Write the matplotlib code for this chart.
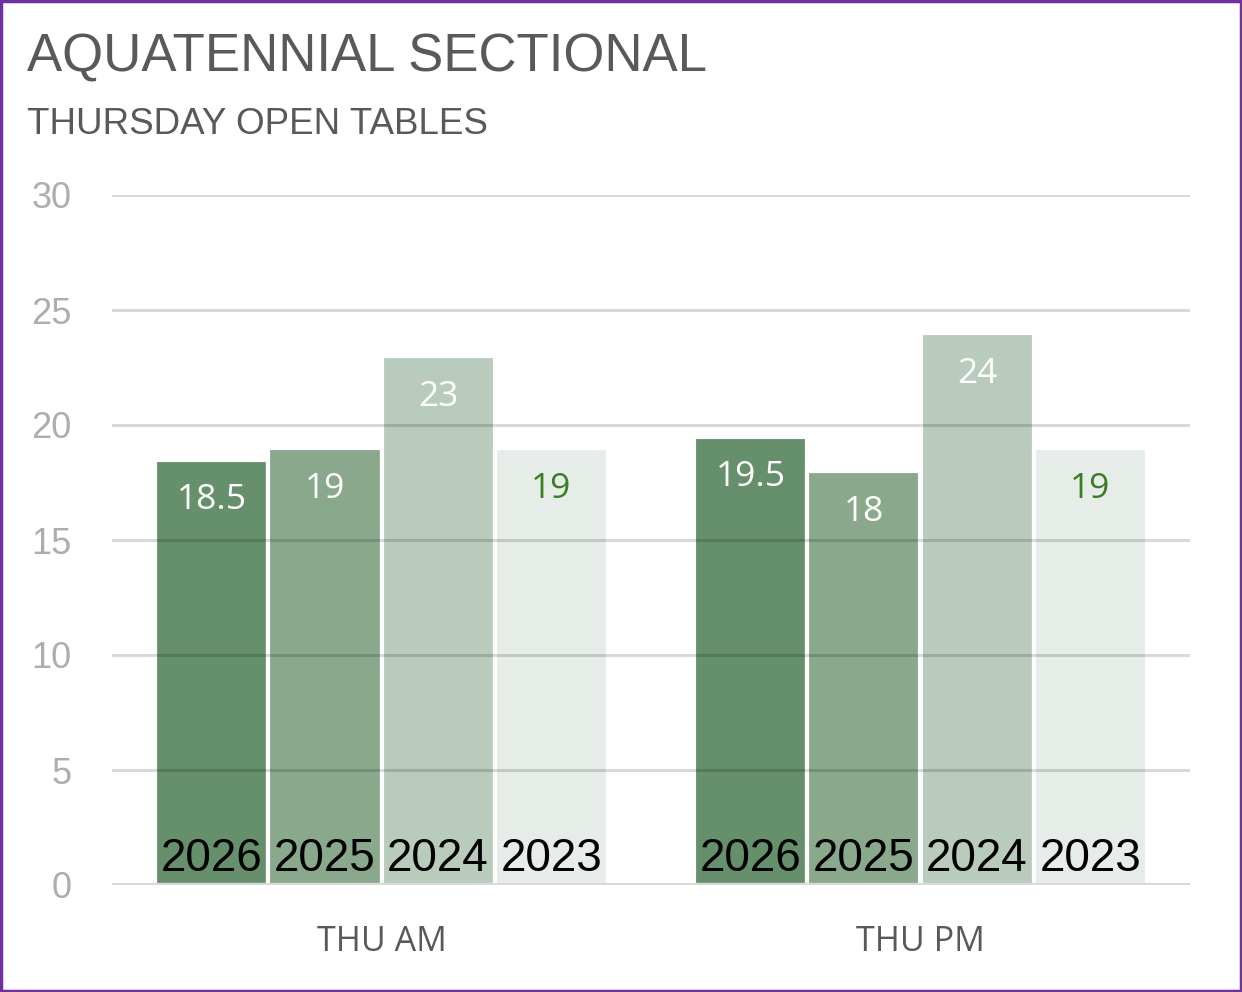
import numpy as np
import matplotlib
matplotlib.use('Agg')
import matplotlib.pyplot as plt
from matplotlib.patches import Rectangle

categories = ['THU AM', 'THU PM']
years = ['2026', '2025', '2024', '2023']
values = {
    '2026': [18.5, 19.5],
    '2025': [19, 18],
    '2024': [23, 24],
    '2023': [19, 19],
}
bar_colors = ['#668F6B', '#89A88C', '#B8CBBC', '#E6ECE8']
label_colors = ['white', 'white', 'white', '#3B7D23']

fig = plt.figure(figsize=(12.42, 9.92), dpi=100)
ax = fig.add_axes([112/1242, 1-885/992, (1190-112)/1242, (885-195)/992])

x = np.arange(len(categories))
step = 0.21
for i, yr in enumerate(years):
    xpos = x + (i - 1.5) * step
    bars = ax.bar(xpos, values[yr], width=step, color=bar_colors[i],
                  edgecolor='white', linewidth=3, zorder=2)
    for b, v in zip(bars, values[yr]):
        cx = b.get_x() + b.get_width() / 2
        ax.annotate(f'{v:g}', (cx, v), xytext=(0, -29.5), textcoords='offset points',
                    ha='center', va='center', fontsize=25.5, color=label_colors[i],
                    family=['Open Sans', 'DejaVu Sans'], zorder=4)
        ax.annotate(yr, (cx, 0), xytext=(0, 19), textcoords='offset points',
                    ha='center', va='center', fontsize=33, color='black',
                    family=['Liberation Sans', 'DejaVu Sans'], zorder=4)

ax.set_xlim(-0.5, 1.5)
ax.set_ylim(0, 30)
ax.set_yticks(range(0, 31, 5))
for t in range(5, 31, 5):
    ax.axhline(t, color='black', alpha=0.15, lw=2.2, zorder=3)
ax.axhline(0, color='#D9D9D9', lw=3, zorder=3)

for s in ax.spines.values():
    s.set_visible(False)
ax.tick_params(axis='y', length=0, pad=29, labelsize=26, labelcolor='#ADADAD')
ax.tick_params(axis='x', length=0, pad=29, labelsize=24.5, labelcolor='#595959')
ax.set_xticks(x)
ax.set_xticklabels(categories, family=['Open Sans', 'DejaVu Sans'])
for lab in ax.get_yticklabels():
    lab.set_family(['Liberation Sans', 'DejaVu Sans'])

fig.text(27/1242, 1-57/992, 'AQUATENNIAL SECTIONAL', fontsize=38, color='#595959',
         va='center', ha='left', family=['Liberation Sans', 'DejaVu Sans'])
fig.text(27/1242, 1-124/992, 'THURSDAY OPEN TABLES', fontsize=26.5, color='#595959',
         va='center', ha='left', family=['Liberation Sans', 'DejaVu Sans'])

fig.patches.append(Rectangle((0.001, 0.001), 0.998, 0.998, transform=fig.transFigure,
                             fill=False, edgecolor='#7030A0', lw=2.5))

fig.savefig('out.png', dpi=100)
